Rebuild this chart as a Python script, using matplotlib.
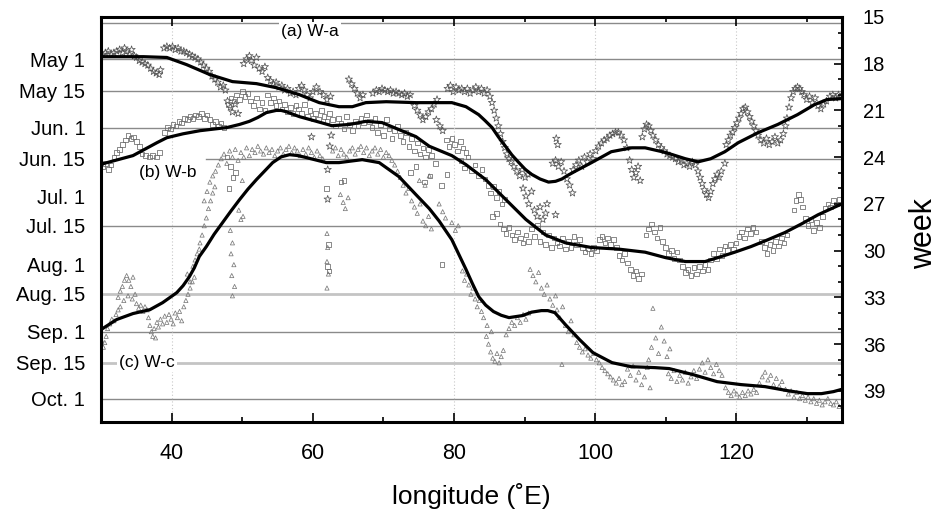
import matplotlib
matplotlib.use("Agg")
import matplotlib.pyplot as plt
from matplotlib.ticker import MultipleLocator, FixedLocator

plt.rcParams['font.family'] = ['Liberation Sans', 'DejaVu Sans']

# ---------------- data ----------------
# smoothed curves (longitude, week)
a_curve_lon = [30.0, 33.0, 36.0, 39.3, 42.1, 45.4, 48.6, 52.0, 54.8, 58.1, 60.9, 63.7, 65.6, 67.5, 70.4,
               74.6, 79.7, 81.7, 83.5, 84.4, 85.4, 86.3, 87.3, 88.2, 89.2, 90.1, 91.0, 92.2, 93.4, 94.4,
               95.3, 96.2, 97.2, 99.5, 102.3, 105.2, 107.1,
               110.0, 112.8, 114.6, 116.4, 118.4, 120.3, 123.1, 125.9, 128.7, 131.1, 132.9, 135.0]
a_curve_wk = [17.55, 17.55, 17.55, 17.6, 18.06, 18.7, 19.15, 19.28, 19.54, 19.99, 20.5, 20.76, 20.76, 20.5, 20.44,
              20.5, 20.5, 20.76, 21.27, 21.65, 22.1, 22.7, 23.3, 23.85, 24.35, 24.78, 25.1, 25.4, 25.6, 25.55,
              25.4, 25.15, 24.9, 24.35, 23.65, 23.4, 23.4,
              23.7, 24.1, 24.3, 24.1, 23.65, 23.07, 22.43, 21.9, 21.27, 20.63, 20.3, 20.24]

b_curve_lon = [30.0, 34.5, 37.9, 39.3, 41.6, 44.0, 47.8, 49.6, 51.0, 52.2, 53.4, 54.8, 55.5, 56.2, 58.1,
               60.5, 62.7, 65.2, 67.5, 69.8, 72.2, 74.6, 76.5, 79.7, 81.7, 84.5, 87.3, 90.2, 93.0, 95.8,
               99.5, 103.3, 107.1, 110.0, 112.8, 115.6, 117.4, 119.8, 122.1, 124.5, 126.9, 129.2, 131.6,
               134.0, 135.0]
b_curve_wk = [24.45, 23.9, 23.07, 22.75, 22.5, 22.3, 22.1, 21.9, 21.7, 21.45, 21.14, 21.0, 21.0, 21.08, 21.4,
              21.7, 21.98, 21.9, 21.7, 21.78, 22.23, 22.68, 23.3, 23.9, 24.48, 25.44, 26.7, 28.0, 29.0, 29.5,
              29.8, 29.9, 30.1, 30.45, 30.7, 30.7, 30.45, 30.1, 29.74, 29.3, 28.84, 28.3, 27.7,
              27.2, 27.0]

c_curve_lon = [30.0, 32.2, 34.5, 36.9, 38.7, 40.7, 41.6, 42.5, 43.2, 43.9, 44.9, 46.0, 47.2, 48.4, 49.6,
               50.8, 52.0, 54.3, 55.5, 56.7, 57.9, 59.1, 61.9, 63.7, 67.0, 69.4, 72.2, 74.6, 76.5, 77.9,
               79.7, 81.7, 82.6, 83.5, 84.5, 85.6, 86.7, 87.8, 89.7, 91.0, 92.4, 93.3, 94.3, 95.8, 97.8,
               99.7, 102.4, 105.1, 108.5, 110.5, 113.9, 117.3, 120.7, 124.1, 127.3, 130.1, 132.1, 133.8,
               135.0]
c_curve_wk = [35.06, 34.42, 34.04, 33.79, 33.34, 32.7, 32.25, 31.67, 31.1, 30.38, 29.74, 28.95, 28.2, 27.45, 26.73,
              26.05, 25.44, 24.35, 23.98, 23.84, 23.9, 24.03, 24.35, 24.35, 24.16, 24.35, 25.25, 26.4, 27.3, 28.1,
              29.3, 31.2, 32.1, 32.95, 33.5, 33.91, 34.15, 34.3, 34.17, 33.95, 33.85, 33.85, 33.98, 34.75, 35.71,
              36.55, 37.19, 37.45, 37.51, 37.57, 37.96, 38.41, 38.6, 38.73, 38.99, 39.18, 39.18, 39.05,
              38.9]

# W-a observations (stars)
a_lon = [30.2, 30.6, 31.0, 31.4, 31.8, 32.2, 32.6, 33.0, 33.3, 33.6, 34.0, 34.3, 34.7, 35.0,
         35.4, 35.8, 36.2, 36.6, 37.0, 37.4, 37.8, 38.2, 38.4,
         38.9, 39.3, 39.7, 40.1, 40.5, 40.9, 41.3, 41.7, 42.1, 42.5, 42.9, 43.3, 43.7, 44.1, 44.5, 44.9,
         45.3, 45.7, 46.1, 46.5, 46.9, 47.3, 47.6,
         50.2, 50.6, 51.0, 51.3, 51.7, 52.0, 52.4, 52.8, 53.2,
         53.6, 54.0, 54.4, 54.8, 55.2, 55.6, 56.0, 56.4, 56.8, 57.2, 57.6, 58.0, 58.4, 58.8, 59.2, 59.6, 60.0,
         47.9, 48.3, 48.6, 49.0, 49.4,
         60.5, 61.0, 61.5, 62.0, 62.5,
         65.1, 65.5, 65.9, 66.3, 66.7, 67.1,
         68.5, 69.0, 69.4, 69.8, 70.2, 70.6, 71.0, 71.4, 71.8, 72.2, 72.6, 73.0, 73.4, 73.8,
         74.4, 74.8, 75.2, 75.6, 76.0, 76.4, 76.8, 77.2, 77.6, 77.5, 78.0, 78.4,
         79.1, 79.5, 79.9, 80.3, 80.7, 81.1, 81.5, 81.9, 82.3, 82.7, 83.1, 83.5, 83.9, 84.3, 84.7, 85.1,
         85.4, 85.7, 86.0, 86.3, 86.6, 86.9, 87.2, 87.5, 87.8,
         88.1, 88.5, 88.9, 89.3, 89.7, 90.1, 90.5,
         89.8, 90.2, 90.6, 91.0, 91.4, 91.8, 92.2, 92.6, 93.0, 93.2, 94.4,
         94.0, 94.4, 94.8, 95.2, 95.6, 96.0, 96.4, 96.8, 94.5, 94.7,
         96.9, 97.3, 97.7, 98.1, 98.5, 98.9, 99.3, 99.7, 100.1,
         100.5, 100.9, 101.3, 101.7, 102.1, 102.5, 102.9, 103.3, 103.7, 104.1, 104.5,
         104.9, 105.2, 105.5, 105.8, 106.1, 106.4,
         106.7, 107.0, 107.3, 107.6, 107.9, 108.2,
         108.6, 109.0, 109.4, 109.8, 110.2, 110.6, 111.0, 111.4, 111.8, 112.2,
         112.6, 113.0, 113.4, 113.8, 114.2,
         114.6, 114.9, 115.2, 115.5, 115.8, 116.1, 116.4,
         116.7, 117.0, 117.3, 117.6, 117.9, 118.4,
         118.6, 118.9, 119.2, 119.5, 119.8, 120.1, 120.4, 120.7, 121.0, 121.3,
         121.6, 121.9, 122.2, 122.5, 122.8, 123.1,
         123.5, 123.9, 124.3, 124.7, 125.1, 125.5, 125.9, 126.3, 126.7, 127.0, 127.2,
         127.5, 127.8, 128.1, 128.4, 128.7, 129.0, 129.3, 129.6,
         130.0, 130.4, 130.8, 131.2, 131.6, 132.0, 132.4, 132.8,
         133.3, 133.7, 134.1, 134.5, 134.9,
         62.4, 62.1, 62.1, 59.8, 62.6]
a_wk = [17.4, 17.3, 17.2, 17.4, 17.3, 17.2, 17.1, 17.3, 17.0, 17.2, 17.4, 17.1, 17.5, 17.6,
        17.8, 17.9, 18.0, 18.1, 18.3, 18.5, 18.6, 18.7, 18.4,
        17.0, 16.9, 17.0, 16.9, 17.1, 17.0, 17.2, 17.2, 17.3, 17.4, 17.5, 17.6, 17.7, 17.9, 18.1, 18.3,
        18.5, 18.8, 19.0, 19.2, 19.5, 19.4, 19.7,
        18.0, 17.7, 17.5, 17.8, 18.1, 17.6, 18.3, 18.5, 18.2,
        18.9, 19.1, 19.3, 19.2, 19.5, 19.4, 19.7, 19.6, 19.9, 19.8, 20.0, 19.6, 19.4, 19.7, 20.0, 20.2, 19.8,
        20.4, 20.8, 21.1, 20.6, 21.2,
        19.5, 19.8, 20.0, 20.3, 20.1,
        19.0, 19.3, 19.6, 19.9, 20.2, 20.0,
        19.9, 19.7, 19.8, 19.6, 19.7, 19.8, 19.7, 19.9, 19.8, 19.9, 20.0, 19.9, 20.1, 20.0,
        20.7, 21.0, 21.3, 21.6, 21.4, 21.1, 20.9, 20.6, 20.3, 21.6, 22.0, 22.3,
        19.6, 19.4, 19.8, 19.5, 19.7, 19.6, 19.8, 19.6, 19.9, 19.7, 19.5, 19.8, 19.6, 19.9, 19.7, 20.1,
        20.5, 21.0, 21.5, 22.0, 22.5, 23.0, 23.4, 23.8, 24.1,
        24.3, 24.6, 24.9, 25.2, 24.8, 25.3, 25.1,
        26.0, 26.5, 27.0, 26.2, 27.4, 27.8, 27.2, 28.0, 27.6, 27.0, 27.7,
        24.4, 24.2, 24.6, 24.3, 24.9, 25.4, 25.8, 26.3, 22.8, 23.2,
        24.8, 24.5, 24.2, 24.6, 24.0, 24.3, 23.8, 24.1, 23.6,
        23.3, 23.1, 22.9, 22.8, 22.6, 22.5, 22.4, 22.4, 22.6, 22.9, 23.4,
        24.2, 24.8, 25.3, 25.0, 24.6, 25.5,
        22.7, 22.2, 21.9, 22.0, 22.3, 22.6,
        22.9, 23.2, 23.4, 23.6, 23.8, 23.9, 24.0, 24.1, 24.3, 24.2,
        24.5, 24.4, 24.6, 24.3, 24.5,
        24.9, 25.3, 25.7, 26.1, 26.4, 26.6, 26.2,
        25.7, 25.4, 25.1, 25.3, 24.9, 24.4,
        23.2, 22.9, 22.6, 22.4, 22.1, 21.8, 21.5, 21.2, 20.9, 20.8,
        21.1, 21.4, 21.7, 22.0, 22.3, 22.6,
        22.9, 23.1, 22.8, 23.2, 23.0, 22.7, 23.1, 22.9, 22.5, 22.0, 21.5,
        20.8, 20.2, 19.8, 19.6, 19.5, 19.6, 19.8, 20.0,
        20.3, 20.1, 20.5, 20.2, 20.7, 20.9, 20.6, 20.4,
        20.1, 20.0, 20.2, 20.0, 20.1,
        23.3, 24.8, 26.7, 22.7, 22.6]

# W-b observations (squares)
b_lon = [30.2, 30.6, 31.0, 31.4,
         31.8, 32.2, 32.6, 33.0, 33.4, 33.8, 34.2, 34.6, 35.0, 35.4,
         35.8, 36.3, 36.8, 37.3, 37.8, 38.3,
         39.0, 39.4, 39.8, 40.2, 40.6, 41.0, 41.4, 41.8, 42.2, 42.6, 43.0, 43.4, 43.8, 44.2, 44.6, 45.0,
         45.4, 45.8, 46.2, 46.6, 47.0, 47.4,
         48.0, 48.4, 48.8, 49.2, 49.6, 50.0, 50.4, 50.8, 51.2, 51.6, 52.0, 52.4, 52.8, 53.2,
         53.6, 54.0, 54.4, 54.8, 55.2, 55.6, 56.0, 56.4, 56.8, 57.2, 57.6,
         58.0, 58.4, 58.8, 59.2, 59.6, 60.0, 60.4, 60.8, 61.2, 61.6, 62.0, 62.4,
         62.8, 63.2, 63.6, 64.0, 64.4, 64.8, 65.2, 65.6, 66.0, 66.4, 66.8, 67.2,
         67.6, 68.0, 68.4, 68.8, 69.2, 69.6, 70.0, 70.4, 70.8, 71.2, 71.6, 72.0,
         72.4, 72.8, 73.2, 73.6, 74.0, 74.4, 74.8, 75.2, 75.6, 76.0, 76.4, 76.8,
         73.8, 74.6, 75.8, 76.6, 77.4, 78.2, 79.0,
         78.9, 79.3, 79.7, 80.1, 80.5, 80.9, 81.3, 81.7,
         81.0, 81.5, 82.0, 82.5, 83.0, 83.5, 84.0, 84.4,
         84.8, 85.2, 85.6, 86.0, 86.4, 86.8, 87.2,
         85.5, 86.0, 86.5, 87.0, 87.4, 87.8, 88.2, 88.6, 89.0, 89.4, 89.8, 90.2, 90.6,
         91.0, 91.4, 91.8, 92.2, 92.6, 93.0, 93.4, 93.8, 94.2, 94.6,
         95.0, 95.4, 95.8, 96.2, 96.6, 97.0, 97.4, 97.8, 98.2,
         98.6, 99.0, 99.4, 99.8, 100.2,
         100.6, 101.0, 101.4, 101.8, 102.2, 102.6, 103.0,
         103.4, 103.8, 104.2, 104.6, 105.0, 105.4, 105.8, 106.2, 106.6,
         107.2, 107.6, 108.0, 108.4, 108.8, 109.2, 109.6,
         110.0, 110.4, 110.8, 111.2, 111.6, 112.0,
         112.4, 112.8, 113.2, 113.6, 114.0, 114.4, 114.8, 115.2, 115.6, 116.0,
         116.4, 116.8, 117.2, 117.6, 118.0, 118.4, 118.8, 119.2, 119.6, 120.0,
         120.4, 120.8, 121.2, 121.6, 122.0, 122.4, 122.8,
         123.6, 124.0, 124.4, 124.8, 125.2, 125.6, 126.0, 126.4, 126.8, 127.2,
         128.2, 128.5, 128.8, 129.1, 129.4,
         129.8, 130.2, 130.6, 131.0, 131.4, 131.8, 132.2,
         132.6, 133.0, 133.4, 133.8, 134.2, 134.6,
         61.9, 62.2, 62.1, 62.3, 64.0, 64.4, 47.8, 48.3, 48.7, 49.0, 48.1, 78.3]
b_wk = [24.6, 24.4, 24.8, 24.5,
        24.0, 23.7, 23.5, 23.2, 22.9, 22.6, 22.8, 22.7, 23.0, 23.3,
        23.8, 23.9, 24.0, 23.9, 24.0, 23.7,
        22.4, 22.1, 22.2, 21.9, 22.0, 21.7, 21.8, 21.5, 21.6, 21.4, 21.5, 21.3, 21.4, 21.2, 21.5, 21.3,
        21.6, 21.9, 21.7, 22.0, 21.8, 22.1,
        20.6, 20.2, 20.4, 20.0, 20.3, 19.8, 20.1, 19.9, 20.4, 20.7, 20.2, 20.9, 20.5, 21.0,
        20.0, 20.5, 20.2, 20.7, 20.4, 20.9, 20.6, 21.1, 20.8, 21.2, 20.7,
        20.9, 21.2, 20.6, 21.4, 21.0, 21.5, 21.2, 21.6, 21.0, 21.4, 21.7, 21.2,
        21.6, 22.0, 21.5, 21.8, 22.2, 21.4, 21.9, 22.3, 21.7, 22.0, 21.5, 21.8,
        21.3, 21.7, 22.1, 21.5, 22.4, 21.9, 22.6, 21.6, 22.2, 22.8, 22.3, 22.0,
        22.6, 23.0, 22.4, 23.3, 22.8, 23.6, 23.1, 23.8, 23.4, 24.0, 23.5, 23.9,
        25.0, 24.6, 25.6, 25.2, 24.4, 25.8, 25.1,
        22.9, 23.3, 22.8, 23.2, 23.6, 23.0, 23.4, 23.7,
        24.2, 24.7, 24.0, 24.9, 24.5, 25.2, 24.8, 25.4,
        25.8, 26.3, 25.9, 26.6, 26.2, 27.0, 26.7,
        27.8, 27.6, 28.3, 28.6, 28.9, 28.5, 29.0, 29.3, 28.8, 29.2, 29.5, 29.0, 29.4,
        28.6, 29.1, 28.4, 29.4, 28.8, 29.6, 29.0, 29.8, 29.2, 29.5,
        29.7, 29.2, 29.9, 29.4, 29.8, 29.1, 29.6, 29.3, 29.8,
        30.1, 29.9, 30.2, 29.8, 30.0,
        29.3, 29.1, 29.5, 29.2, 29.6, 29.3, 29.8,
        30.3, 30.6, 30.2, 30.8, 31.2, 31.6, 31.3, 31.8, 31.5,
        29.0, 28.6, 28.3, 28.8, 29.2, 28.5, 29.4,
        29.8, 30.2, 30.0, 30.5, 30.1, 30.6,
        31.0, 31.4, 31.2, 31.6, 31.1, 31.5, 31.0, 31.3, 30.9, 31.2,
        30.6, 30.2, 30.5, 29.9, 30.3, 29.7, 30.0, 29.6, 29.9, 29.5,
        29.1, 28.8, 29.2, 28.6, 28.9, 28.5, 28.8,
        29.4, 29.8, 30.2, 29.6, 30.0, 29.4, 29.7, 29.2, 29.5, 29.0,
        27.4, 26.8, 26.4, 26.7, 27.2,
        27.9, 28.4, 28.0, 28.7, 28.2, 28.5, 27.8,
        27.3, 27.0, 27.2, 26.8, 27.0, 26.7,
        26.0, 29.6, 31.0, 31.3, 25.6, 25.5, 24.0, 24.6, 25.3, 25.0, 26.0, 30.9]

# W-c observations (triangles)
c_lon = [30.1, 30.3, 30.5, 30.7,
         30.9, 31.2, 31.5, 31.8, 32.1, 32.4, 32.7,
         32.4, 32.7, 33.0, 33.3, 33.6, 33.9, 34.2, 34.5, 34.8, 33.2, 33.8, 34.4,
         35.0, 35.3, 35.6, 35.9, 36.2, 36.5,
         36.7, 36.9, 37.1, 37.3, 37.5, 37.7, 37.9, 38.1,
         38.4, 38.7, 39.0, 39.3, 39.6, 39.9, 40.2, 40.5, 40.8, 41.1, 41.4,
         41.7, 42.0, 42.3, 42.6, 42.9, 43.2,
         43.0, 43.3, 43.6, 43.9, 42.2, 42.6,
         44.0, 44.3, 44.6, 44.9, 45.2, 45.5, 45.8, 46.1,
         44.6, 45.0, 45.4, 45.8,
         46.2, 46.6, 47.0, 47.4, 47.8, 48.2, 48.6, 49.0, 49.4, 49.8, 50.2,
         48.3, 48.6, 48.4, 48.8, 48.5, 48.9, 48.6, 49.5, 49.8,
         50.6, 51.0, 51.4, 51.8, 52.2, 52.6, 53.0, 53.4, 53.8, 54.2, 54.6, 55.0, 55.4, 55.8,
         50.0, 50.1,
         56.2, 56.6, 57.0, 57.4, 57.8, 58.2, 58.6, 59.0, 59.4, 59.8, 60.2, 60.6, 61.0, 61.4,
         62.0, 62.1, 62.0, 62.2, 62.0,
         62.8, 63.2, 63.6, 64.0, 64.4, 64.8, 65.2,
         63.9, 64.3, 64.6, 65.0,
         65.6, 66.0, 66.4, 66.8, 67.2, 67.6, 68.0, 68.4, 68.8, 69.2, 69.6, 70.0, 70.4, 70.8, 71.2,
         71.6, 72.0, 72.4, 72.8, 73.2, 73.6, 74.0, 74.4, 74.8, 75.2, 75.6, 76.0, 76.4, 76.8,
         75.1, 75.9, 76.5, 77.9, 78.4, 78.8, 79.7, 80.2, 80.6,
         81.2, 81.5, 81.8, 82.1, 82.4, 82.7, 83.0, 83.3, 83.6, 83.9, 84.2,
         84.6, 84.9, 85.2, 85.5, 85.8, 86.1, 86.4, 86.7, 87.0, 84.7, 85.3,
         87.4, 87.8, 88.2, 88.6, 89.0, 89.4, 89.8, 90.2, 90.6,
         90.8, 91.2, 91.6, 92.0, 92.4, 92.8, 93.2, 93.6, 94.0, 94.4,
         94.6, 95.0, 95.4, 95.8, 96.2, 96.6, 97.0, 95.3,
         97.4, 97.8, 98.2, 98.6, 99.0, 99.4, 99.8, 100.2,
         100.6, 101.0, 101.4, 101.8, 102.2, 102.6, 103.0, 103.4, 103.8, 104.2,
         104.6, 105.0, 105.4, 105.8, 106.2, 106.6, 107.0, 107.4, 107.8,
         107.6, 108.0, 108.2, 108.6, 109.0, 109.4, 109.8, 110.2, 110.6,
         110.4, 110.8, 111.2, 111.6, 112.0, 112.4, 112.8, 113.2, 113.6, 114.0, 114.4,
         114.8, 115.2, 115.6, 116.0, 116.4, 116.8, 117.2, 117.6, 118.0,
         118.5, 118.9, 119.3, 119.7, 120.1, 120.5, 120.9, 121.3, 121.7, 122.1, 122.5, 122.9,
         123.3, 123.7, 124.1, 124.5, 124.9, 125.3, 125.7, 126.1, 126.5,
         127.0, 127.4, 127.8, 128.2, 128.6, 129.0, 129.4, 129.8, 130.2, 130.6, 131.0, 131.4, 131.8,
         132.2, 132.6, 133.0, 133.4, 133.8, 134.2, 134.6]
c_wk = [35.8, 36.2, 35.9, 35.5,
        35.0, 34.7, 34.4, 34.5, 34.1, 33.8, 33.6,
        33.0, 32.6, 32.3, 31.9, 31.6, 31.9, 32.3, 31.7, 32.8, 33.2, 32.9, 33.1,
        33.4, 33.7, 33.5, 33.9, 33.6, 33.8,
        34.3, 34.8, 35.2, 35.5, 35.0, 35.6, 34.6, 34.9,
        34.4, 34.7, 34.2, 34.6, 34.1, 34.4, 34.7, 34.0, 34.3, 33.9, 34.5,
        33.6, 33.2, 32.8, 32.4, 32.0, 31.7,
        31.0, 30.6, 30.2, 29.9, 31.5, 32.0,
        29.5, 29.0, 28.4, 27.9, 27.3, 26.8, 26.3, 25.9,
        26.8, 26.2, 25.6, 25.2,
        24.9, 24.5, 24.1, 23.8, 24.4, 23.6, 24.0, 23.5, 24.2, 23.7, 24.0,
        28.7, 29.5, 30.2, 30.9, 31.6, 32.3, 32.9, 27.4, 28.0,
        23.4, 23.9, 23.5, 23.7, 23.3, 23.6, 23.8, 23.4, 23.7, 23.5, 23.9, 23.6, 23.4, 23.8,
        25.5, 27.8,
        23.5, 23.3, 23.7, 23.4, 23.6, 23.9, 23.5, 23.8, 23.4, 23.7, 24.0, 23.6, 23.9, 24.1,
        28.9, 29.8, 30.7, 31.5, 32.4,
        23.6, 23.4, 23.9, 23.5, 23.8, 24.0, 23.6,
        26.4, 26.9, 27.3, 26.6,
        23.4, 23.8, 23.5, 23.3, 23.7, 23.4, 23.9, 23.6, 23.4, 23.8, 23.5, 24.0, 23.7, 23.9, 24.2,
        24.5, 24.9, 25.3, 25.8, 26.3, 26.0, 26.8, 27.2, 27.6, 27.0, 28.1, 28.4, 27.8, 28.6,
        25.5, 25.8, 25.2, 27.0, 27.5, 27.9, 28.2, 28.7, 28.4,
        31.3, 31.9, 31.5, 32.2, 32.8, 32.4, 33.1, 33.6, 33.2, 33.9, 34.3,
        35.5, 36.0, 36.5, 36.9, 37.1, 36.6, 37.2, 36.8, 36.4, 34.8, 35.2,
        35.4, 35.0, 34.6, 34.8, 34.3, 34.6, 34.1, 34.4, 34.0,
        31.2, 31.6, 32.0, 31.4, 32.4, 32.8, 32.2, 33.1, 33.5, 32.9,
        33.8, 34.3, 33.6, 34.8, 35.2, 34.5, 35.4, 37.3,
        35.9, 36.2, 36.5, 36.3, 36.7, 36.9, 36.6, 37.0,
        37.2, 37.5, 37.7, 37.9, 38.1, 38.3, 38.5, 38.2, 38.6, 38.4,
        37.6, 38.0, 37.4, 38.3, 37.8, 38.6, 38.1, 37.5, 38.8,
        37.0, 36.2, 33.7, 35.6, 36.6, 34.9, 35.8, 36.8, 36.3,
        37.9, 38.2, 37.7, 38.4, 38.0, 38.3, 37.8, 38.5, 38.1, 37.7, 38.2,
        37.6, 37.2, 37.8, 37.0, 37.5, 37.9, 37.3, 37.7, 38.0,
        38.8, 39.1, 39.3, 39.0, 39.2, 39.4, 39.1, 39.3, 39.0, 39.2, 38.9, 39.1,
        38.5, 38.1, 37.8, 38.3, 38.0, 38.6, 38.2, 38.7, 38.4,
        38.9, 39.2, 39.0, 39.4, 39.1, 39.5, 39.3, 39.6, 39.4, 39.7, 39.5, 39.8, 39.6,
        39.9, 39.7, 39.5, 39.8, 39.9, 39.7, 40.0]

# left axis: calendar dates (positions in weeks)
date_labels = ['May 1', 'May 15', 'Jun. 1', 'Jun. 15', 'Jul. 1', 'Jul. 15',
               'Aug. 1', 'Aug. 15', 'Sep. 1', 'Sep. 15', 'Oct. 1']
date_weeks = [17.70, 19.73, 22.12, 24.11, 26.53, 28.40, 30.90, 32.78, 35.20, 37.21, 39.52]

# horizontal reference lines (week)
dark_lines = [15.40, 17.70, 19.73, 22.12, 28.40, 35.20, 39.52]
light_lines = [32.78, 37.21]
partial_line_week = 24.11
partial_line_start = 44.8
vgrid_lon = [40, 80, 100, 120]

week_ticks = [15, 18, 21, 24, 27, 30, 33, 36, 39]

# ---------------- figure ----------------
fig = plt.figure(figsize=(9.4, 5.14), dpi=100)
ax = fig.add_axes([0.1077, 0.179, 0.7880, 0.7880])
ax.set_xlim(30, 135)
ax.set_ylim(41, 15)

for w in dark_lines:
    ax.axhline(w, color='#8a8a8a', lw=1.0, zorder=1)
for w in light_lines:
    ax.axhline(w, color='#c4c4c4', lw=2.0, zorder=1)
ax.plot([partial_line_start, 135], [partial_line_week, partial_line_week],
        color='#8a8a8a', lw=1.0, zorder=1)
for x in vgrid_lon:
    ax.axvline(x, color='#c8c8c8', lw=0.8, ls=(0, (1, 2)), zorder=1)

ax.scatter(c_lon, c_wk, marker='^', s=9, facecolors='none', edgecolors='#7a7a7a', linewidths=0.55, zorder=2)
ax.scatter(b_lon, b_wk, marker='s', s=11, facecolors='none', edgecolors='#6a6a6a', linewidths=0.55, zorder=2)
ax.scatter(a_lon, a_wk, marker='*', s=30, facecolors='none', edgecolors='#555555', linewidths=0.55, zorder=2)

for lo, wk in [(a_curve_lon, a_curve_wk), (b_curve_lon, b_curve_wk), (c_curve_lon, c_curve_wk)]:
    ax.plot(lo, wk, color='black', lw=2.3, solid_joinstyle='round', solid_capstyle='round', zorder=3)

box = dict(facecolor='white', edgecolor='none', pad=1.5)
ax.text(59.6, 15.94, '(a) W-a', fontsize=12.5, ha='center', va='center', bbox=box, zorder=4)
ax.text(39.4, 25.0, '(b) W-b', fontsize=12.5, ha='center', va='center', zorder=4)
ax.text(36.5, 37.2, '(c) W-c', fontsize=12.5, ha='center', va='center', bbox=box, zorder=4)

# spines
for s in ax.spines.values():
    s.set_linewidth(2.2)
    s.set_zorder(5)

# x axis
ax.xaxis.set_major_locator(FixedLocator([40, 60, 80, 100, 120]))
ax.xaxis.set_minor_locator(FixedLocator([50, 70, 90, 110, 130]))
ax.tick_params(axis='x', which='both', direction='in', top=True, bottom=True, width=1.2)
ax.tick_params(axis='x', which='major', length=6.5, labelsize=15.5, pad=15)
ax.tick_params(axis='x', which='minor', length=3.5)
ax.set_xlabel('longitude (˚E)', fontsize=19, labelpad=14)

# left axis: dates
ax.set_yticks(date_weeks)
ax.set_yticklabels(date_labels)
ax.yaxis.set_minor_locator(FixedLocator([]))
ax.tick_params(axis='y', which='both', length=0, labelsize=14.5, pad=11.5, left=True, right=False)

# right axis: weeks
ax2 = ax.twinx()
ax2.set_ylim(41, 15)
ax2.yaxis.set_major_locator(FixedLocator(week_ticks))
ax2.yaxis.set_minor_locator(MultipleLocator(1))
ax2.tick_params(axis='y', which='both', direction='in', width=1.2)
ax2.tick_params(axis='y', which='major', length=6, labelsize=14.5, pad=15)
ax2.tick_params(axis='y', which='minor', length=3)
for s in ax2.spines.values():
    s.set_visible(False)
fig.text(0.999, 0.545, 'week', rotation=90, fontsize=22, ha='right', va='center')

fig.savefig('out.png', dpi=100)
